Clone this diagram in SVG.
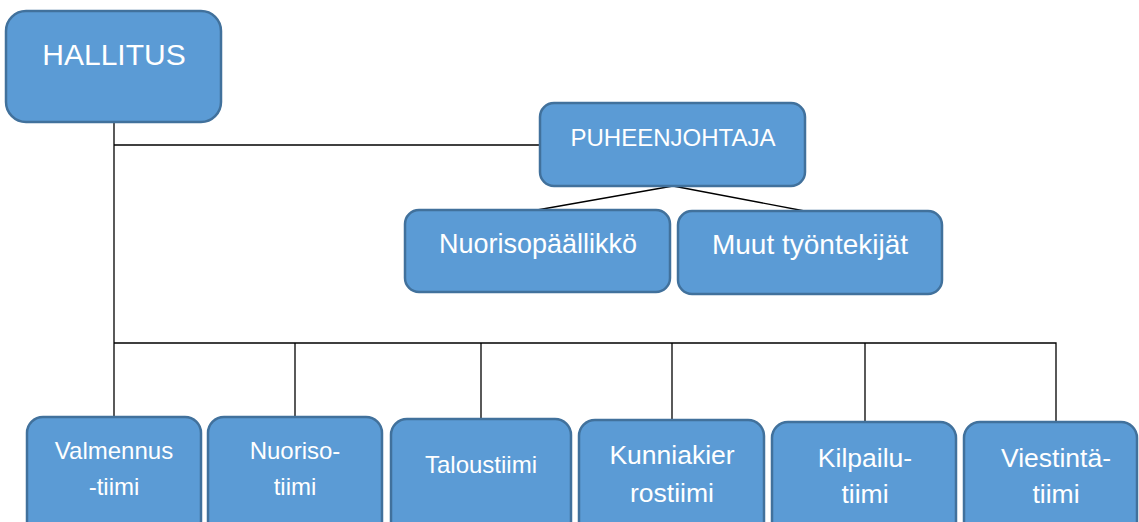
<svg xmlns="http://www.w3.org/2000/svg" width="1139" height="522" viewBox="0 0 1139 522">
<style>
.box{fill:#5B9BD5;stroke:#41719C;stroke-width:2.5}
.t{fill:#FFFFFF;font-family:"Liberation Sans",Arial,sans-serif;text-anchor:middle}
.s{font-size:24px}
.m{font-size:26.5px}
.ln{stroke:#000;stroke-width:1.3;fill:none}
</style>
<rect width="1139" height="522" fill="#FFFFFF"/>
<g id="connectors">
<path class="ln" d="M114,122 V417"/>
<path class="ln" d="M114,145 H540"/>
<path class="ln" d="M673,186 L537,210"/>
<path class="ln" d="M673,186 L810,212"/>
<path class="ln" d="M114,343 H1056 V422"/>
<path class="ln" d="M295,343 V417"/>
<path class="ln" d="M481,343 V419"/>
<path class="ln" d="M672,343 V420"/>
<path class="ln" d="M865,343 V422"/>
</g>
<g id="hallitus">
<rect class="box" x="6" y="11" width="215" height="111" rx="20"/>
<text class="t" x="114" y="65" font-size="30">HALLITUS</text>
</g>
<g id="puheenjohtaja">
<rect class="box" x="540" y="103" width="265" height="83" rx="14"/>
<text class="t" x="673" y="146" font-size="24">PUHEENJOHTAJA</text>
</g>
<g id="nuorisopaallikko">
<rect class="box" x="405" y="210" width="265" height="82" rx="14"/>
<text class="t" x="538" y="253" font-size="27">Nuorisopäällikkö</text>
</g>
<g id="muut">
<rect class="box" x="678" y="211" width="264" height="83" rx="14"/>
<text class="t" x="810" y="254" font-size="28">Muut työntekijät</text>
</g>
<g id="valmennus">
<rect class="box" x="27" y="417" width="174" height="120" rx="16"/>
<text class="t s" x="114" y="459">Valmennus</text>
<text class="t s" x="114" y="495">-tiimi</text>
</g>
<g id="nuoriso">
<rect class="box" x="208" y="417" width="174" height="120" rx="16"/>
<text class="t s" x="295" y="459">Nuoriso-</text>
<text class="t s" x="295" y="495">tiimi</text>
</g>
<g id="talous">
<rect class="box" x="391" y="419" width="180" height="120" rx="16"/>
<text class="t s" x="481" y="473">Taloustiimi</text>
</g>
<g id="kunniakierros">
<rect class="box" x="579" y="420" width="185" height="120" rx="16"/>
<text class="t m" x="672" y="464">Kunniakier</text>
<text class="t m" x="672" y="502">rostiimi</text>
</g>
<g id="kilpailu">
<rect class="box" x="772" y="422" width="184" height="120" rx="16"/>
<text class="t m" x="865" y="467">Kilpailu-</text>
<text class="t m" x="865" y="503">tiimi</text>
</g>
<g id="viestinta">
<rect class="box" x="964" y="422" width="173" height="120" rx="16"/>
<text class="t m" x="1056" y="467">Viestintä-</text>
<text class="t m" x="1056" y="503">tiimi</text>
</g>
</svg>
